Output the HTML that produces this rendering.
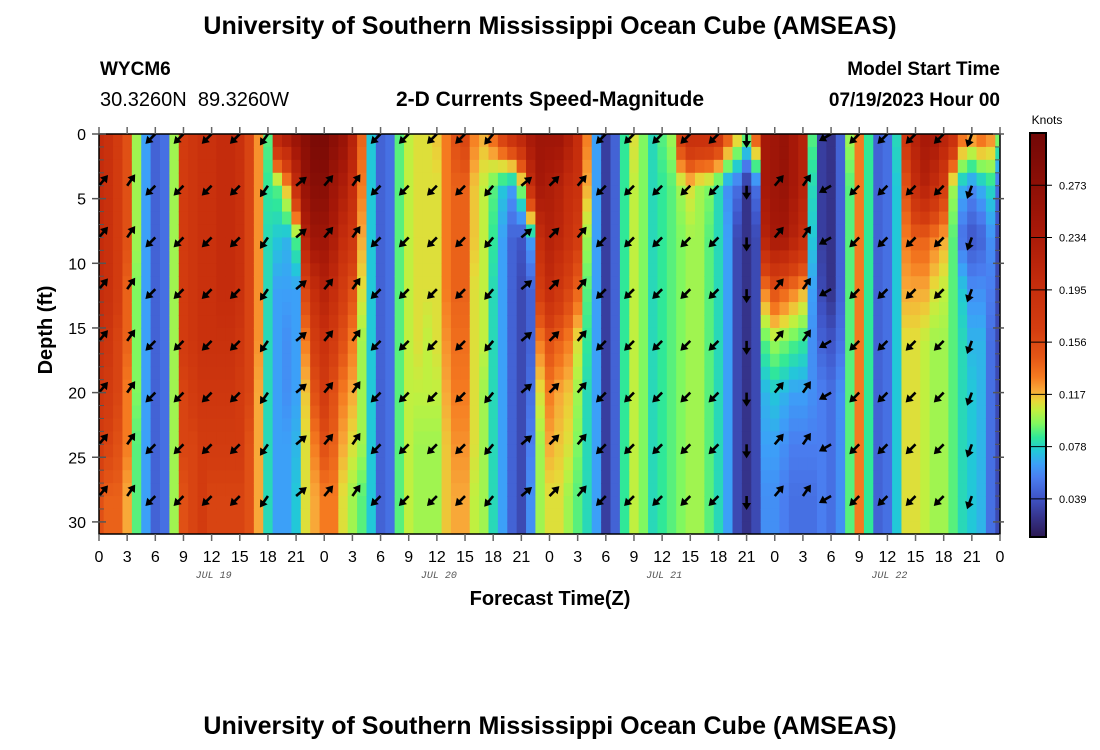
<!DOCTYPE html>
<html><head><meta charset="utf-8">
<style>
html,body{margin:0;padding:0;background:#fff;}
body{width:1100px;height:750px;overflow:hidden;position:relative;font-family:"Liberation Sans",Arial,sans-serif;}
svg{position:absolute;left:0;top:0;}
</style></head>
<body>
<svg id="chart" width="1100" height="750" viewBox="0 0 1100 750">
  <text x="550" y="34" text-anchor="middle" font-size="25" font-weight="bold">University of Southern Mississippi Ocean Cube (AMSEAS)</text>
  <text x="100" y="75" font-size="19" font-weight="bold">WYCM6</text>
  <text x="100" y="106" font-size="20">30.3260N&#160;&#160;89.3260W</text>
  <text x="550" y="106" text-anchor="middle" font-size="21" font-weight="bold">2-D Currents Speed-Magnitude</text>
  <text x="1000" y="75" text-anchor="end" font-size="19" font-weight="bold">Model Start Time</text>
  <text x="1000" y="106" text-anchor="end" font-size="19" font-weight="bold">07/19/2023 Hour 00</text>
  <defs><clipPath id="plotclip"><rect x="99" y="134" width="901" height="400"/></clipPath></defs>
  <g id="heat" clip-path="url(#plotclip)"></g>
  <g id="arrows" clip-path="url(#plotclip)"></g>
  <rect x="99" y="134" width="901" height="400" fill="none" stroke="#000" stroke-width="1.5"/>
  <g id="axes"></g>
  <text transform="translate(52,330) rotate(-90)" text-anchor="middle" font-size="20" font-weight="bold">Depth (ft)</text>
  <text x="550" y="605" text-anchor="middle" font-size="20" font-weight="bold">Forecast Time(Z)</text>
  <g id="cbar"></g>
  <text x="1047" y="124" text-anchor="middle" font-size="12">Knots</text>
  <text x="550" y="734" text-anchor="middle" font-size="25" font-weight="bold">University of Southern Mississippi Ocean Cube (AMSEAS)</text>
</svg>
<script>
const depthLevels = [0,4,8,12,16,20,24,28];
const speedByHour = [
[.20,.20,.20,.20,.19,.18,.17,.15],[.19,.19,.19,.19,.18,.17,.16,.14],[.17,.17,.17,.17,.16,.16,.15,.14],[.15,.15,.15,.14,.14,.13,.13,.12],
[.10,.10,.10,.095,.095,.095,.09,.09],[.065,.065,.065,.065,.065,.065,.065,.065],[.045,.045,.045,.045,.045,.045,.045,.045],[.05,.05,.05,.05,.05,.05,.05,.05],
[.10,.10,.10,.10,.10,.10,.10,.10],[.17,.17,.17,.17,.17,.16,.16,.15],[.18,.18,.18,.18,.18,.17,.16,.16],[.19,.19,.19,.19,.19,.18,.17,.17],
[.19,.19,.19,.19,.19,.18,.17,.16],[.20,.20,.20,.20,.19,.18,.17,.16],[.20,.20,.20,.20,.19,.18,.17,.16],[.19,.19,.19,.19,.18,.17,.17,.16],
[.16,.16,.16,.16,.16,.16,.15,.15],[.125,.125,.125,.125,.125,.12,.12,.12],[.09,.085,.08,.08,.08,.08,.08,.08],[.22,.09,.075,.065,.065,.065,.065,.065],
[.24,.12,.07,.065,.06,.06,.065,.065],[.26,.20,.09,.065,.065,.065,.07,.075],[.28,.26,.22,.16,.13,.115,.11,.11],[.30,.28,.25,.20,.17,.15,.13,.12],
[.30,.28,.25,.22,.19,.17,.15,.13],[.28,.25,.23,.20,.17,.15,.14,.13],[.26,.23,.20,.17,.15,.13,.12,.11],[.22,.20,.18,.15,.13,.12,.11,.10],
[.14,.13,.12,.11,.10,.10,.10,.09],[.075,.075,.075,.075,.075,.075,.075,.075],[.045,.045,.045,.045,.045,.045,.045,.045],[.05,.05,.05,.05,.05,.05,.05,.05],
[.09,.09,.09,.09,.09,.09,.09,.09],[.105,.105,.105,.105,.105,.105,.105,.105],[.11,.11,.11,.11,.11,.105,.10,.10],[.11,.11,.11,.11,.105,.105,.10,.10],
[.115,.11,.11,.11,.11,.105,.10,.10],[.13,.13,.13,.13,.125,.12,.115,.115],[.15,.14,.14,.14,.135,.13,.125,.12],[.16,.14,.14,.14,.135,.13,.125,.12],
[.13,.115,.115,.11,.11,.11,.11,.105],[.12,.105,.105,.105,.105,.10,.10,.10],[.14,.09,.085,.08,.08,.08,.08,.08],[.17,.075,.065,.065,.065,.065,.065,.065],
[.20,.065,.045,.045,.045,.045,.045,.045],[.22,.10,.04,.035,.035,.035,.035,.035],[.24,.20,.065,.045,.045,.05,.055,.06],[.25,.24,.20,.17,.13,.11,.10,.10],
[.25,.23,.22,.20,.15,.13,.12,.11],[.25,.22,.21,.18,.14,.12,.115,.11],[.23,.20,.19,.16,.13,.115,.11,.10],[.20,.19,.17,.14,.11,.10,.095,.09],
[.13,.12,.10,.09,.085,.08,.08,.08],[.065,.065,.065,.065,.065,.065,.065,.065],[.03,.03,.03,.03,.03,.03,.03,.03],[.045,.045,.045,.045,.045,.045,.045,.045],
[.085,.085,.085,.085,.085,.085,.085,.085],[.11,.105,.105,.105,.105,.105,.105,.105],[.095,.095,.095,.095,.095,.095,.095,.095],[.08,.08,.08,.08,.08,.08,.08,.08],
[.09,.085,.085,.085,.085,.085,.085,.085],[.10,.09,.09,.09,.09,.09,.09,.09],[.17,.10,.095,.095,.095,.095,.095,.095],[.20,.11,.10,.10,.10,.10,.10,.10],
[.20,.10,.10,.10,.10,.10,.10,.10],[.20,.095,.09,.09,.09,.09,.09,.09],[.19,.08,.08,.08,.08,.08,.08,.08],[.15,.06,.065,.065,.065,.065,.065,.065],
[.12,.05,.035,.035,.035,.035,.035,.035],[.10,.025,.025,.025,.025,.025,.025,.025],[.15,.05,.035,.035,.035,.035,.035,.035],[.24,.24,.22,.13,.09,.07,.065,.06],
[.25,.25,.24,.15,.10,.075,.065,.06],[.26,.26,.24,.14,.095,.07,.06,.055],[.24,.24,.22,.13,.09,.065,.055,.05],[.22,.22,.20,.12,.085,.065,.055,.05],
[.09,.08,.075,.065,.06,.06,.055,.05],[.03,.03,.03,.035,.045,.055,.055,.055],[.025,.025,.025,.025,.04,.05,.05,.05],[.045,.045,.045,.045,.05,.06,.06,.06],
[.10,.09,.09,.09,.09,.09,.09,.09],[.13,.13,.13,.13,.13,.13,.13,.13],[.085,.085,.085,.085,.085,.085,.085,.085],[.045,.045,.045,.045,.045,.045,.045,.045],
[.05,.05,.05,.05,.05,.05,.05,.05],[.08,.075,.075,.075,.075,.075,.075,.075],[.18,.15,.13,.12,.11,.11,.11,.11],[.22,.20,.14,.12,.11,.11,.11,.11],
[.24,.22,.14,.12,.105,.105,.105,.105],[.24,.20,.13,.11,.10,.10,.10,.10],[.22,.17,.12,.105,.10,.10,.10,.10],[.20,.10,.09,.09,.09,.09,.09,.09],
[.14,.07,.05,.075,.08,.08,.08,.08],[.13,.06,.04,.06,.07,.075,.075,.075],[.14,.07,.045,.06,.07,.07,.07,.07],[.13,.08,.06,.055,.05,.05,.05,.05],
[.10,.05,.035,.035,.035,.035,.035,.035]
];
const arrowHours = [0,3,6,9,12,15,18,21,24,27,30,33,36,39,42,45,48,51,54,57,60,63,66,69,72,75,78,81,84,87,90,93,96];
const arrowAngles = [50,55,225,225,225,225,235,40,50,55,225,225,225,225,230,40,45,50,225,225,225,225,225,270,50,55,210,225,225,225,225,250,45];
const arrowDepths = [0,4,8,12,16,20,24,28];
const xTickLabels = ["0","3","6","9","12","15","18","21","0","3","6","9","12","15","18","21","0","3","6","9","12","15","18","21","0","3","6","9","12","15","18","21","0"];
const yTickLabels = ["0","5","10","15","20","25","30"];
const dayLabels = ["JUL 19","JUL 20","JUL 21","JUL 22"];
const cbarTicks = [0.273,0.234,0.195,0.156,0.117,0.078,0.039];

const NS="http://www.w3.org/2000/svg";
const X0=99,X1=1000,Y0=134,PXFT=12.93,MAXH=96,VMIN=0.0106,VMAX=0.312;
const xs=h=>X0+(X1-X0)*h/MAXH;
const ys=d=>Y0+d*PXFT;
const stops=[[0.010,[43,24,80]],[0.025,[53,51,138]],[0.040,[63,85,200]],[0.055,[74,126,240]],[0.065,[60,160,248]],[0.075,[34,200,216]],[0.085,[48,232,152]],[0.095,[128,248,96]],[0.105,[192,240,64]],[0.112,[232,216,56]],[0.120,[248,168,56]],[0.130,[245,122,32]],[0.145,[228,86,22]],[0.165,[212,62,16]],[0.20,[196,44,12]],[0.24,[166,24,8]],[0.28,[136,14,6]],[0.32,[108,6,6]]];
function col(v){
  if(v<=stops[0][0])return `rgb(${stops[0][1]})`;
  for(let i=1;i<stops.length;i++){if(v<=stops[i][0]){const a=stops[i-1],b=stops[i],t=(v-a[0])/(b[0]-a[0]);
    return `rgb(${a[1].map((c,k)=>Math.round(c+(b[1][k]-c)*t)).join(',')})`;}}
  return `rgb(${stops[stops.length-1][1]})`;
}
function mk(tag,attrs,parent){const e=document.createElementNS(NS,tag);for(const k in attrs)e.setAttribute(k,attrs[k]);parent.appendChild(e);return e;}
function valueAt(h,d){const p=speedByHour[h];
  if(d<=depthLevels[0])return p[0];
  for(let i=1;i<depthLevels.length;i++){if(d<=depthLevels[i]){const t=(d-depthLevels[i-1])/(depthLevels[i]-depthLevels[i-1]);return p[i-1]+(p[i]-p[i-1])*t;}}
  return p[p.length-1];}
const heat=document.getElementById('heat');
const cw=(X1-X0)/MAXH;
speedByHour.forEach((p,h)=>{
  for(let d=0;d<32;d++){
    const r=mk('rect',{x:(xs(h)-cw/2).toFixed(2),y:ys(d).toFixed(2),width:(cw+0.6).toFixed(2),height:(PXFT+0.6).toFixed(2),fill:col(valueAt(h,d+0.5))},heat);
    
    
  }
});
const arr=document.getElementById('arrows');
arrowHours.forEach((h,i)=>{
  const a=arrowAngles[i]*Math.PI/180,L=14,cx=xs(h);
  arrowDepths.forEach(d=>{
    const x=cx,y=ys(d);
    const tx=x+L*Math.cos(a),ty=y-L*Math.sin(a);
    const g=mk('g',{},arr);
    
    
    mk('line',{x1:x,y1:y,x2:tx-3*Math.cos(a),y2:ty+3*Math.sin(a),stroke:'#000','stroke-width':2.6},g);
    const hl=7,hw=4.5;
    const bx=tx-hl*Math.cos(a),by=ty+hl*Math.sin(a);
    const px=-Math.sin(a),py=-Math.cos(a);
    mk('polygon',{points:`${tx},${ty} ${bx+hw*px},${by+hw*py} ${bx-hw*px},${by-hw*py}`,fill:'#000'},g);
  });
});
const ax=document.getElementById('axes');
xTickLabels.forEach((lab,i)=>{
  const x=xs(i*3);
  mk('line',{x1:x,y1:Y0,x2:x,y2:Y0-7,stroke:'#666','stroke-width':1.5},ax);
  mk('line',{x1:x,y1:Y0+400,x2:x,y2:Y0+407,stroke:'#666','stroke-width':1.5},ax);
  const t=mk('text',{x:x,y:562,'text-anchor':'middle','font-size':16},ax);t.textContent=lab;
  
  
});
dayLabels.forEach((lab,i)=>{
  const t=mk('text',{x:xs(12+24*i)+2,y:578,'text-anchor':'middle','font-size':10,'font-style':'italic',fill:'#555','font-family':'Liberation Mono, monospace'},ax);t.textContent=lab;
  
  
});
for(let d=1;d<=30;d++){
  if(d%5===0)continue;
  mk('line',{x1:X0,y1:ys(d),x2:X0+5,y2:ys(d),stroke:'#555','stroke-width':1},ax);
  mk('line',{x1:X1,y1:ys(d),x2:X1-5,y2:ys(d),stroke:'#555','stroke-width':1},ax);
}
yTickLabels.forEach((lab,i)=>{
  const y=ys(i*5);
  mk('line',{x1:X0-7,y1:y,x2:X0+7,y2:y,stroke:'#555','stroke-width':1.5},ax);
  mk('line',{x1:X1-7,y1:y,x2:X1+4,y2:y,stroke:'#555','stroke-width':1.5},ax);
  const t=mk('text',{x:86,y:y+6,'text-anchor':'end','font-size':16},ax);t.textContent=lab;
  
  
});
const cb=document.getElementById('cbar');
const CB0=133,CB1=537,CBX=1030,CBW=16;
const cy=v=>CB1-(v-VMIN)/(VMAX-VMIN)*(CB1-CB0);
for(let y=CB0;y<CB1;y++){
  const v=VMIN+(CB1-y-0.5)/(CB1-CB0)*(VMAX-VMIN);
  mk('rect',{x:CBX,y:y,width:CBW,height:1.2,fill:col(v)},cb);
}
mk('rect',{x:CBX,y:CB0,width:CBW,height:CB1-CB0,fill:'none',stroke:'#000','stroke-width':2},cb);
cbarTicks.forEach(v=>{
  const y=cy(v);
  mk('line',{x1:CBX,y1:y,x2:CBX+CBW+6,y2:y,stroke:'#000','stroke-width':1},cb);
  const t=mk('text',{x:CBX+CBW+13,y:y+4,'font-size':11},cb);t.textContent=v.toFixed(3);
  
  
});
</script>
</body></html>
